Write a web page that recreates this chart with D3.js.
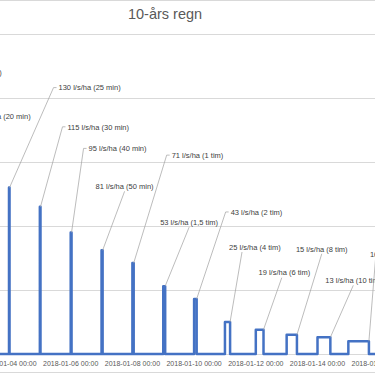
<!DOCTYPE html>
<html>
<head>
<meta charset="utf-8">
<script src="https://cdn.jsdelivr.net/npm/d3@7"></script>
<style>
  body { margin: 0; background: #fff; }
  svg { display: block; font-family: 'Liberation Sans', Arial, sans-serif; }
</style>
</head>
<body>
<div id="vis"></div>
<script>
const title = '10-års regn';

// one rain event per day, starting at midnight
const eventDays = ['2018-01-02', '2018-01-03', '2018-01-04', '2018-01-05', '2018-01-06',
                   '2018-01-07', '2018-01-08', '2018-01-09', '2018-01-10', '2018-01-11',
                   '2018-01-12', '2018-01-13', '2018-01-14', '2018-01-15'];
const durationMin = [15, 20, 25, 30, 40, 50, 60, 90, 120, 240, 360, 480, 600, 960];
const durationText = ['15 min', '20 min', '25 min', '30 min', '40 min', '50 min', '1 tim',
                      '1,5 tim', '2 tim', '4 tim', '6 tim', '8 tim', '10 tim', '16 tim'];
const intensity = [180, 150, 130, 115, 95, 81, 71, 53, 43, 25, 19, 15, 13, 10];

const yTicks = [0, 50, 100, 150, 200, 250];
const xTicks = ['2018-01-02', '2018-01-04', '2018-01-06', '2018-01-08', '2018-01-10',
                '2018-01-12', '2018-01-14', '2018-01-16'];

// hand placed data labels: offset from the labelled point, and where the leader leaves the label
const labelOffsets = [[-8, -51], [-10, -46], [49, -100], [27, -80], [17, -84], [-7, -64],
                      [38, -108], [-5, -64], [34, -87], [-1, -75], [-5, -57], [-1, -86],
                      [-5, -57], [1, -87]];
const leaderFrom = ['L', 'L', 'L', 'L', 'L', 0.5, 'L', 0.5, 'L', 0.25, 0.45, 0.5, 0.5, 0.1];

const width = 375;
const height = 373;
const dayWidth = 30.85;
const parse = d3.timeParse('%Y-%m-%d');

const events = eventDays.map((d, i) => {
  const start = parse(d);
  return {
    start,
    end: d3.timeMinute.offset(start, durationMin[i]),
    value: intensity[i],
    label: `${intensity[i]} l/s/ha (${durationText[i]})`,
    offset: labelOffsets[i],
    leader: leaderFrom[i],
  };
});

const x = d3.scaleTime()
    .domain([parse('2018-01-01'), parse('2018-01-17')])
    .range([9 - 3 * dayWidth, 9 + 13 * dayWidth]);

const y = d3.scaleLinear()
    .domain([0, 250])
    .range([354, 34]);

const svg = d3.select('#vis').append('svg')
    .attr('width', width)
    .attr('height', height);

// frame edges
svg.selectAll('.frame')
  .data([0.5, height - 0.5])
  .join('line')
    .attr('class', 'frame')
    .attr('x1', 0)
    .attr('x2', width)
    .attr('y1', d => d)
    .attr('y2', d => d)
    .attr('stroke', '#d9d9d9')
    .attr('stroke-width', 1);

svg.append('text')
    .attr('x', 165)
    .attr('y', 19)
    .attr('text-anchor', 'middle')
    .attr('font-size', 14.5)
    .attr('fill', '#595959')
    .text(title);

svg.append('g')
  .selectAll('line')
  .data(yTicks)
  .join('line')
    .attr('x1', 0)
    .attr('x2', width)
    .attr('y1', d => Math.round(y(d)) + 0.5)
    .attr('y2', d => Math.round(y(d)) + 0.5)
    .attr('stroke', '#d9d9d9')
    .attr('stroke-width', 1);

svg.append('g')
  .selectAll('text')
  .data(xTicks.map(parse))
  .join('text')
    .attr('x', d => x(d))
    .attr('y', 365.5)
    .attr('text-anchor', 'middle')
    .attr('font-size', 7)
    .attr('fill', '#595959')
    .text(d => d3.timeFormat('%Y-%m-%d %H:%M')(d));

// series as one line: zero between events, plateau during each event
const points = [[x.domain()[0], 0]];
events.forEach(e => {
  points.push([e.start, 0], [e.start, e.value], [e.end, e.value], [e.end, 0]);
});
points.push([x.domain()[1], 0]);

const line = d3.line()
    .x(d => x(d[0]))
    .y(d => y(d[1]));

svg.append('path')
    .datum(points)
    .attr('d', line)
    .attr('fill', 'none')
    .attr('stroke', '#4472c4')
    .attr('stroke-width', 2.5)
    .attr('stroke-linejoin', 'round');

// data labels with leader lines
const labels = svg.append('g')
  .selectAll('g')
  .data(events)
  .join('g');

labels.append('text')
    .attr('x', d => x(d.end) + d.offset[0])
    .attr('y', d => y(d.value) + d.offset[1] + 2.7)
    .attr('font-size', 7.5)
    .attr('fill', '#404040')
    .text(d => d.label);

labels.each(function(d) {
  const g = d3.select(this);
  const w = g.select('text').node().getComputedTextLength();
  const lx = x(d.end) + d.offset[0];
  const ly = y(d.value) + d.offset[1];
  const px = x(d.end);
  const py = y(d.value);
  let path;
  if (d.leader === 'L') {
    path = [[lx - 2, ly], [lx - 5, ly], [px, py]];
  } else {
    path = [[lx + d.leader * w, ly + 5], [px, py]];
  }
  g.append('path')
      .attr('d', d3.line()(path))
      .attr('fill', 'none')
      .attr('stroke', '#a6a6a6')
      .attr('stroke-width', 0.75);
});
</script>
</body>
</html>
